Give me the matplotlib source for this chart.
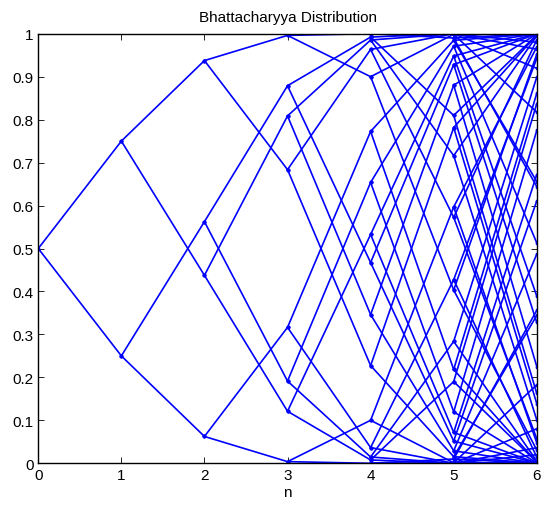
import matplotlib
matplotlib.use("Agg")
import matplotlib.pyplot as plt

plt.rcParams.update({
    "font.family": ["Liberation Sans", "DejaVu Sans"],
    "font.size": 11,
    "xtick.direction": "in",
    "ytick.direction": "in",
    "xtick.top": True,
    "ytick.right": True,
})

# Bhattacharyya values per level n
level0 = [0.5]
level1 = [0.75, 0.25]
level2 = [0.9375, 0.4375, 0.5625, 0.0625]
level3 = [0.9961, 0.6836, 0.8086, 0.1211, 0.8789, 0.1914, 0.3164, 0.0039]
level4 = [1.0000, 0.8999, 0.9634, 0.2275, 0.9853, 0.3462, 0.5327, 0.0078,
          0.9922, 0.4673, 0.6538, 0.0147, 0.7725, 0.0366, 0.1001, 0.0000]
level5 = [1.0000, 0.9900, 0.9987, 0.4033, 0.9998, 0.5725, 0.7816, 0.0155,
          0.9999, 0.7162, 0.8802, 0.0291, 0.9482, 0.0719, 0.1902, 0.0000,
          1.0000, 0.8098, 0.9281, 0.0518, 0.9709, 0.1198, 0.2838, 0.0001,
          0.9845, 0.2184, 0.4275, 0.0002, 0.5967, 0.0013, 0.0100, 0.0000]
level6 = [1.0000, 0.9999, 1.0000, 0.6439, 1.0000, 0.8173, 0.9523, 0.0308,
          1.0000, 0.9195, 0.9856, 0.0574, 0.9973, 0.1387, 0.3442, 0.0001,
          1.0000, 0.9638, 0.9948, 0.1009, 0.9992, 0.2253, 0.4870, 0.0001,
          0.9998, 0.3891, 0.6722, 0.0004, 0.8374, 0.0027, 0.0199, 0.0000,
          1.0000, 0.9801, 0.9973, 0.1626, 0.9996, 0.3278, 0.6109, 0.0002,
          0.9999, 0.5130, 0.7747, 0.0008, 0.8991, 0.0052, 0.0362, 0.0000,
          0.9999, 0.6558, 0.8613, 0.0027, 0.9426, 0.0144, 0.0805, 0.0000,
          0.9692, 0.0477, 0.1827, 0.0000, 0.3561, 0.0000, 0.0001, 0.0000]
levels = [level0, level1, level2, level3, level4, level5, level6]

fig = plt.figure(figsize=(5.46, 5.06), dpi=100)
ax = fig.add_axes([0.0701, 0.0824, 0.913, 0.849])

# node i at level n links to nodes 2i and 2i+1 at level n+1
for n in range(len(levels) - 1):
    parents = levels[n]
    children = levels[n + 1]
    for i, p in enumerate(parents):
        for c in (children[2 * i], children[2 * i + 1]):
            ax.plot([n, n + 1], [p, c], ".-", color="#0000FF", lw=1.2, markersize=3.5)

ax.set_xlim(0, 6)
ax.set_ylim(0, 1)
ax.set_xticks(range(7))
ax.set_yticks([i / 10 for i in range(11)])
ax.set_yticklabels(["0", "0.1", "0.2", "0.3", "0.4", "0.5", "0.6", "0.7", "0.8", "0.9", "1"])
ax.tick_params(length=4, width=0.6, labelsize=11)
for s in ax.spines.values():
    s.set_linewidth(1.0)
ax.set_title("Bhattacharyya Distribution", fontsize=11, pad=9)
ax.set_xlabel("n", fontsize=11, labelpad=2)

fig.savefig("out.png", dpi=100)
